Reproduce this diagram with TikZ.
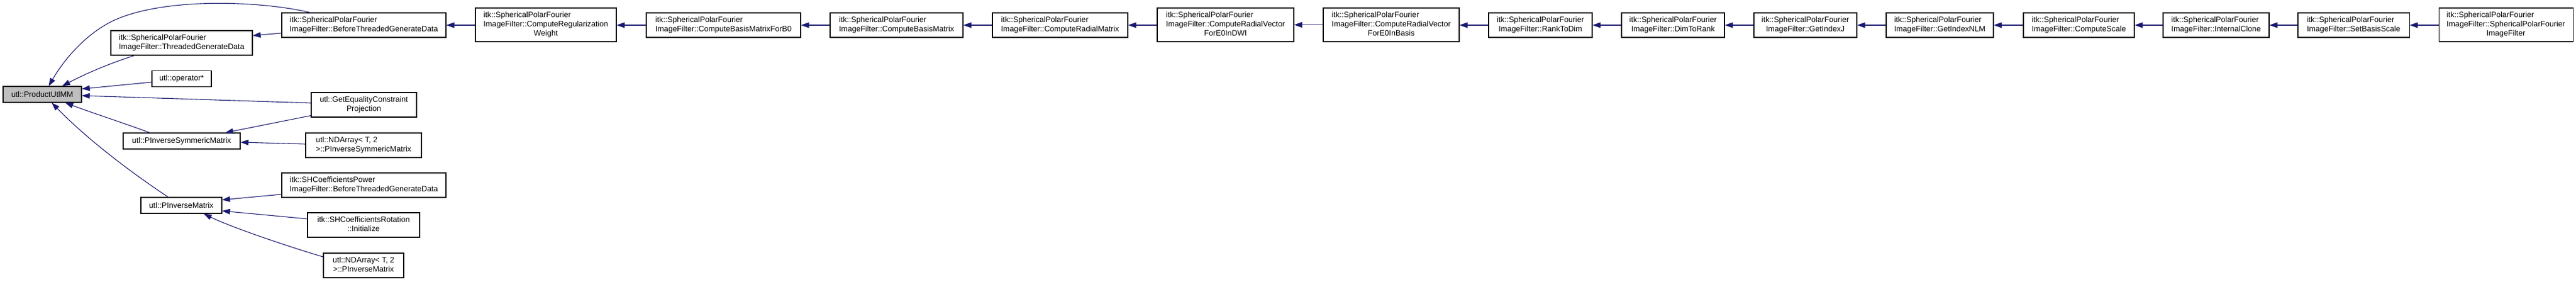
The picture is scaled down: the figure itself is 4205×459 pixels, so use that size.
\documentclass[tikz,border=0pt]{standalone}
\usepackage{fontspec}
\setmainfont{Liberation Sans}
\usetikzlibrary{arrows.meta,calc}
\definecolor{edgeblue}{HTML}{191970}
\definecolor{mainfill}{HTML}{BFBFBF}
\newcommand{\fnlabel}[2]{\begin{tabular}{@{}l@{}}#1\\\multicolumn{1}{@{}c@{}}{#2}\end{tabular}}
\begin{document}
\begin{tikzpicture}[x=1pt,y=-1pt,
  fn/.style={draw=black, line width=1.1pt, inner sep=0pt, fill=white,
    font=\fontsize{12.7}{15}\selectfont, anchor=center},
  call/.style={draw=edgeblue, line width=1.1pt, -{Triangle[length=13pt,width=9pt]}}]
\useasboundingbox (0,0) rectangle (4205,459);
% column 1
\node[fn, fill=mainfill, minimum width=128pt, minimum height=26pt] (main) at (69,154) {utl::ProductUtlMM};
% column 2
\node[fn, minimum width=231pt, minimum height=40pt] (thr) at (296.5,70) {\fnlabel{itk::SphericalPolarFourier}{ImageFilter::ThreadedGenerateData}};
\node[fn, minimum width=97pt, minimum height=26pt] (op) at (296.5,128.5) {utl::operator*};
\node[fn, minimum width=191pt, minimum height=26pt] (pis) at (296.5,230) {utl::PInverseSymmericMatrix};
\node[fn, minimum width=132pt, minimum height=26pt] (pim) at (296,335) {utl::PInverseMatrix};
% column 3
\node[fn, minimum width=268pt, minimum height=40pt] (btg) at (594,41) {\fnlabel{itk::SphericalPolarFourier}{ImageFilter::BeforeThreadedGenerateData}};
\node[fn, minimum width=172pt, minimum height=40pt] (gec) at (594,171) {\fnlabel{utl::GetEqualityConstraint}{Projection}};
\node[fn, minimum width=189pt, minimum height=40pt] (ndpis) at (593.5,237) {\fnlabel{utl::NDArray< T, 2}{ >::PInverseSymmericMatrix}};
\node[fn, minimum width=268pt, minimum height=40pt] (shp) at (594,302) {\fnlabel{itk::SHCoefficientsPower}{ImageFilter::BeforeThreadedGenerateData}};
\node[fn, minimum width=183pt, minimum height=40pt] (shr) at (593.5,367) {\fnlabel{itk::SHCoefficientsRotation}{::Initialize}};
\node[fn, minimum width=131pt, minimum height=40pt] (ndpim) at (593.5,433) {\fnlabel{utl::NDArray< T, 2}{ >::PInverseMatrix}};
% top chain
\node[fn, minimum width=230pt, minimum height=55pt] (reg) at (891,40.5) {\fnlabel{itk::SphericalPolarFourier\\ImageFilter::ComputeRegularization}{Weight}};
\node[fn, minimum width=252pt, minimum height=40pt] (b0) at (1181,41) {\fnlabel{itk::SphericalPolarFourier}{ImageFilter::ComputeBasisMatrixForB0}};
\node[fn, minimum width=217pt, minimum height=40pt] (bm) at (1463.5,41) {\fnlabel{itk::SphericalPolarFourier}{ImageFilter::ComputeBasisMatrix}};
\node[fn, minimum width=221pt, minimum height=40pt] (rm) at (1730.5,41) {\fnlabel{itk::SphericalPolarFourier}{ImageFilter::ComputeRadialMatrix}};
\node[fn, minimum width=223pt, minimum height=55pt] (dwi) at (2000.5,40.5) {\fnlabel{itk::SphericalPolarFourier\\ImageFilter::ComputeRadialVector}{ForE0InDWI}};
\node[fn, minimum width=222pt, minimum height=55pt] (basis) at (2271,40.5) {\fnlabel{itk::SphericalPolarFourier\\ImageFilter::ComputeRadialVector}{ForE0InBasis}};
\node[fn, minimum width=169pt, minimum height=40pt] (r2d) at (2514.5,41) {\fnlabel{itk::SphericalPolarFourier}{ImageFilter::RankToDim}};
\node[fn, minimum width=168pt, minimum height=40pt] (d2r) at (2731,41) {\fnlabel{itk::SphericalPolarFourier}{ImageFilter::DimToRank}};
\node[fn, minimum width=168pt, minimum height=40pt] (gij) at (2947,41) {\fnlabel{itk::SphericalPolarFourier}{ImageFilter::GetIndexJ}};
\node[fn, minimum width=175pt, minimum height=40pt] (nlm) at (3166.5,41) {\fnlabel{itk::SphericalPolarFourier}{ImageFilter::GetIndexNLM}};
\node[fn, minimum width=181pt, minimum height=40pt] (cs) at (3393.5,41) {\fnlabel{itk::SphericalPolarFourier}{ImageFilter::ComputeScale}};
\node[fn, minimum width=173pt, minimum height=40pt] (ic) at (3617.5,41) {\fnlabel{itk::SphericalPolarFourier}{ImageFilter::InternalClone}};
\node[fn, minimum width=182pt, minimum height=40pt] (sbs) at (3842,41) {\fnlabel{itk::SphericalPolarFourier}{ImageFilter::SetBasisScale}};
\node[fn, minimum width=219pt, minimum height=55pt] (spf) at (4090.5,40.5) {\fnlabel{itk::SphericalPolarFourier\\ImageFilter::SphericalPolarFourier}{ImageFilter}};
% edges into main
\draw[call] ($(btg.north west)+(47,0)$) .. controls (420,0) and (250,-5) .. (173,40)
  .. controls (130,65) and (100,105) .. ($(main.north west)+(75,0)$);
\draw[call] ($(btg.west)+(0,13)$) -- ($(thr.east)+(0,-12)$);
\draw[call] ($(thr.south west)+(39,0)$) .. controls (180,103) and (140,120) .. ($(main.north west)+(97,0)$);
\draw[call] ($(op.west)+(0,5.5)$) -- ($(main.east)+(0,-9)$);
\draw[call] ($(gec.west)+(0,-3)$) -- ($(main.east)+(0,2)$);
\draw[call] ($(pis.north west)+(44,0)$) .. controls (200,200) and (150,184) .. ($(main.south west)+(102,0)$);
\draw[call] ($(pim.north west)+(45,0)$) .. controls (230,292) and (150,235) .. ($(main.south west)+(80,0)$);
\draw[call] ($(gec.south west)+(0,-3)$) -- ($(pis.north east)+(-25,0)$);
\draw[call] ($(ndpis.west)+(0,-2)$) -- ($(pis.east)+(0,2)$);
\draw[call] ($(shp.west)+(0,15)$) -- ($(pim.east)+(0,-9)$);
\draw[call] ($(shr.west)+(0,-10)$) -- ($(pim.east)+(0,9)$);
\draw[call] ($(ndpim.west)+(0,-14)$) .. controls (480,405) and (380,372) .. ($(pim.south east)+(-30,0)$);
% chain
\draw[call] (reg.west |- btg.east) -- (btg.east);
\draw[call] (b0.west) -- (reg.east |- b0.west);
\draw[call] (bm.west) -- (b0.east);
\draw[call] (rm.west) -- (bm.east);
\draw[call] (dwi.west |- rm.east) -- (rm.east);
\draw[call] (basis.west |- dwi.east) -- (dwi.east);
\draw[call] (r2d.west) -- (basis.east |- r2d.west);
\draw[call] (d2r.west) -- (r2d.east);
\draw[call] (gij.west) -- (d2r.east);
\draw[call] (nlm.west) -- (gij.east);
\draw[call] (cs.west) -- (nlm.east);
\draw[call] (ic.west) -- (cs.east);
\draw[call] (sbs.west) -- (ic.east);
\draw[call] (spf.west |- sbs.east) -- (sbs.east);
\end{tikzpicture}
\end{document}
